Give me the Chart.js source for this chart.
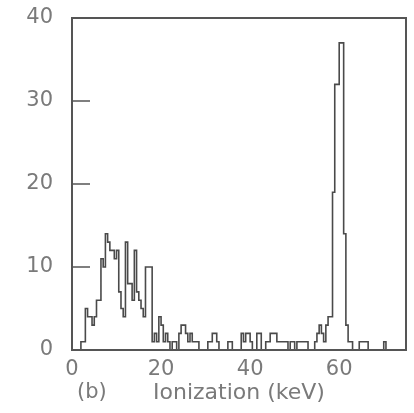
<!DOCTYPE html>
<html>
<head>
<meta charset="utf-8">
<script src="https://cdn.jsdelivr.net/npm/chart.js@4.4.1/dist/chart.umd.min.js"></script>
<style>
  html, body { margin: 0; padding: 0; background: #fff; }
  #wrap { width: 414px; height: 413px; }
</style>
</head>
<body>
<div id="wrap"><canvas id="ionChart"></canvas></div>
<script>
// histogram of ionization energy, 0.5 keV bins starting at 0 keV
const binWidth = 0.5;
const counts = [
  0, 0, 0, 0, 1, 1, 5, 4, 4, 3,          // 0 - 5
  4, 6, 6, 11, 10, 14, 13, 12, 12, 11,   // 5 - 10
  12, 7, 5, 4, 13, 8, 8, 6, 12, 7,       // 10 - 15
  6, 5, 4, 10, 10, 10, 1, 2, 1, 4,       // 15 - 20
  3, 1, 2, 1, 0, 1, 1, 0, 2, 3,          // 20 - 25
  3, 2, 1, 2, 1, 1, 1, 0, 0, 0,          // 25 - 30
  0, 1, 1, 2, 2, 1, 0, 0, 0, 0,          // 30 - 35
  1, 1, 0, 0, 0, 0, 2, 1, 2, 2,          // 35 - 40
  1, 0, 0, 2, 2, 0, 0, 1, 1, 2,          // 40 - 45
  2, 2, 1, 1, 1, 1, 1, 0, 1, 1,          // 45 - 50
  0, 1, 1, 1, 1, 1, 0, 0, 0, 1,          // 50 - 55
  2, 3, 2, 1, 3, 4, 4, 19, 32, 32,       // 55 - 60
  37, 37, 14, 3, 1, 1, 0, 0, 0, 1,       // 60 - 65
  1, 1, 1, 0, 0, 0, 0, 0, 0, 0,          // 65 - 70
  1, 0, 0, 0, 0, 0, 0, 0, 0, 0           // 70 - 75
];
const xTicks = [0, 20, 40, 60];
const yTicks = [0, 10, 20, 30, 40];
const xMax = 75;
const yMax = 40;

// left bin edges + closing edge for the step outline
const points = counts.map((c, i) => ({ x: i * binWidth, y: c }));
points.push({ x: counts.length * binWidth, y: counts[counts.length - 1] });

const inkColor = '#4a4a4a';
const textColor = '#7a7a7a';
const fontFamily = "'DejaVu Sans', sans-serif";
const fontSize = 21;

// frame, inward ticks and panel tag
const framePlugin = {
  id: 'frame',
  afterDraw(chart) {
    const { ctx, chartArea: a, scales } = chart;
    ctx.save();
    ctx.strokeStyle = '#555';
    ctx.lineWidth = 2;
    ctx.strokeRect(a.left, a.top, a.right - a.left, a.bottom - a.top);
    ctx.lineWidth = 1.5;
    yTicks.slice(1, -1).forEach(v => {
      const y = scales.y.getPixelForValue(v);
      ctx.beginPath();
      ctx.moveTo(a.left, y);
      ctx.lineTo(a.left + 18, y);
      ctx.stroke();
    });
    ctx.fillStyle = textColor;
    ctx.font = fontSize + "px " + fontFamily;
    ctx.textAlign = 'left';
    ctx.textBaseline = 'middle';
    ctx.fillText('(b)', a.left + 5, 393);
    ctx.restore();
  }
};

new Chart(document.getElementById('ionChart'), {
  type: 'line',
  data: {
    datasets: [{
      data: points,
      stepped: 'before',
      borderColor: inkColor,
      borderWidth: 1.6,
      pointRadius: 0,
      fill: false
    }]
  },
  options: {
    responsive: true,
    maintainAspectRatio: false,
    animation: false,
    layout: { padding: { top: 18, right: 8, left: 0, bottom: 0 } },
    scales: {
      x: {
        type: 'linear',
        min: 0,
        max: xMax,
        afterBuildTicks: s => { s.ticks = xTicks.map(v => ({ value: v })); },
        afterFit: s => { s.height = 63; s.paddingLeft = 0; s.paddingRight = 0; },
        grid: { display: false, drawTicks: false },
        border: { display: false },
        ticks: {
          color: textColor,
          padding: 7,
          maxRotation: 0,
          font: { size: fontSize, family: fontFamily }
        },
        title: {
          display: true,
          text: 'Ionization (keV)',
          color: textColor,
          padding: { top: 0, bottom: 7 },
          font: { size: 22, family: fontFamily }
        }
      },
      y: {
        min: 0,
        max: yMax,
        afterBuildTicks: s => { s.ticks = yTicks.map(v => ({ value: v })); },
        afterFit: s => { s.width = 72; s.paddingTop = 0; s.paddingBottom = 0; },
        grid: { display: false, drawTicks: false },
        border: { display: false },
        ticks: {
          color: textColor,
          padding: 19,
          font: { size: fontSize, family: fontFamily }
        }
      }
    },
    plugins: {
      legend: { display: false },
      tooltip: { enabled: false }
    }
  },
  plugins: [framePlugin]
});
</script>
</body>
</html>
